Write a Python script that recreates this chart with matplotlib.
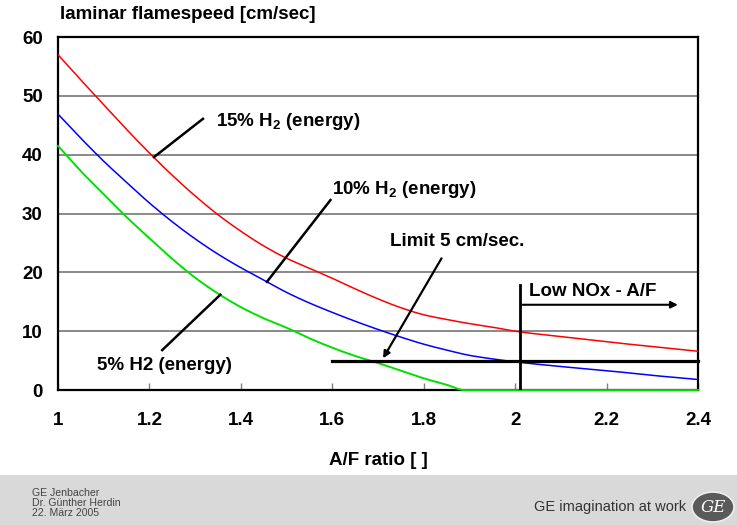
import matplotlib
matplotlib.use("Agg")
import numpy as np
import matplotlib.pyplot as plt
from matplotlib.patches import Rectangle, Circle

plt.rcParams['font.family'] = ['Liberation Sans', 'DejaVu Sans']
plt.rcParams['mathtext.fontset'] = 'custom'
plt.rcParams['mathtext.rm'] = 'Liberation Sans:bold'

# values (A/F ratio, laminar flame speed cm/s)
x_red = [1.0, 1.05, 1.1, 1.15, 1.2, 1.25, 1.3, 1.35, 1.4, 1.45, 1.5, 1.55, 1.6, 1.65,
         1.7, 1.75, 1.8, 1.85, 1.9, 1.95, 2.0, 2.1, 2.2, 2.3, 2.4]
y_red = [57.0, 52.7, 48.5, 44.3, 40.3, 36.5, 33.0, 29.8, 27.0, 24.5, 22.4, 20.7, 19.0, 17.2,
         15.5, 14.0, 12.8, 12.0, 11.3, 10.7, 10.0, 9.1, 8.2, 7.4, 6.6]

x_blue = [1.0, 1.05, 1.1, 1.15, 1.2, 1.25, 1.3, 1.35, 1.4, 1.45, 1.5, 1.55, 1.6, 1.65,
          1.7, 1.75, 1.8, 1.85, 1.9, 1.95, 2.0, 2.1, 2.2, 2.3, 2.4]
y_blue = [46.9, 42.8, 38.9, 35.3, 31.8, 28.6, 25.7, 23.1, 20.8, 18.7, 16.6, 14.8, 13.2, 11.7,
          10.3, 9.0, 7.8, 6.8, 5.9, 5.3, 4.8, 4.0, 3.3, 2.5, 1.8]

x_green = [1.0, 1.05, 1.1, 1.15, 1.2, 1.25, 1.3, 1.35, 1.4, 1.45, 1.5, 1.55, 1.6, 1.65,
           1.7, 1.75, 1.8, 1.85, 1.89, 2.0, 2.2, 2.4]
y_green = [41.5, 37.2, 33.3, 29.4, 25.8, 22.3, 19.1, 16.4, 14.1, 12.2, 10.6, 8.8, 7.2, 5.8,
           4.6, 3.3, 2.0, 0.9, 0.0, 0.0, 0.0, 0.0]

x_ticks = [1, 1.2, 1.4, 1.6, 1.8, 2, 2.2, 2.4]
x_ticklabels = ['1', '1.2', '1.4', '1.6', '1.8', '2', '2.2', '2.4']
y_ticks = [0, 10, 20, 30, 40, 50, 60]

limit_value = 5
limit_x = [1.6, 2.4]
lownox_x = 2.01


def smooth(xs, ys, n=400):
    """Monotone cubic (PCHIP) rendering through the read points."""
    x = np.asarray(xs, float)
    y = np.asarray(ys, float)
    h = np.diff(x)
    dl = np.diff(y) / h
    d = np.zeros_like(x)
    d[0], d[-1] = dl[0], dl[-1]
    for k in range(1, len(x) - 1):
        if dl[k - 1] * dl[k] <= 0:
            d[k] = 0.0
        else:
            w1 = 2 * h[k] + h[k - 1]
            w2 = h[k] + 2 * h[k - 1]
            d[k] = (w1 + w2) / (w1 / dl[k - 1] + w2 / dl[k])
    xx = np.linspace(x[0], x[-1], n)
    idx = np.clip(np.searchsorted(x, xx, side='right') - 1, 0, len(x) - 2)
    t = (xx - x[idx]) / h[idx]
    h00 = 2 * t**3 - 3 * t**2 + 1
    h10 = t**3 - 2 * t**2 + t
    h01 = -2 * t**3 + 3 * t**2
    h11 = t**3 - t**2
    yy = h00 * y[idx] + h10 * h[idx] * d[idx] + h01 * y[idx + 1] + h11 * h[idx] * d[idx + 1]
    return xx, yy


fig = plt.figure(figsize=(7.37, 5.25), dpi=100)
ax = fig.add_axes([0.0787, 0.257, 0.8684, 0.6724])

ax.set_xlim(1, 2.4)
ax.set_ylim(0, 60)
for yv in y_ticks[1:-1]:
    ax.axhline(yv, color='#808080', lw=1.3, zorder=1)

ax.plot(*smooth(x_red, y_red), color='#ff0000', lw=1.1, zorder=3)
ax.plot(*smooth(x_blue, y_blue), color='#0000ff', lw=1.1, zorder=3)
ax.plot(*smooth(x_green, y_green), color='#00e000', lw=1.4, zorder=3, clip_on=False)

for s in ax.spines.values():
    s.set_color('black')
    s.set_linewidth(1.6)

ax.set_xticks(x_ticks)
ax.set_xticklabels(x_ticklabels)
ax.set_yticks(y_ticks)
ax.tick_params(axis='x', direction='in', length=5, width=1, color='#808080', pad=16,
               labelsize=13.5)
ax.tick_params(axis='y', length=0, pad=11, labelsize=13.5)
for lab in ax.get_xticklabels() + ax.get_yticklabels():
    lab.set_fontweight('bold')

ax.set_xlabel('A/F ratio [ ]', fontsize=13.5, fontweight='bold', labelpad=16)
fig.text(0.0815, 0.957, 'laminar flamespeed [cm/sec]', fontsize=13.5, fontweight='bold',
         ha='left', va='bottom')

# limit line and low NOx marker
ax.plot(limit_x, [limit_value, limit_value], color='black', lw=2.3, zorder=4, clip_on=False)
ax.plot([lownox_x, lownox_x], [0, 17.9], color='black', lw=2.0, zorder=4)
ax.annotate('', xy=(2.362, 14.5), xytext=(lownox_x, 14.5),
            arrowprops=dict(arrowstyle='-|>', color='black', lw=1.5, mutation_scale=10))
ax.text(2.03, 16.8, 'Low NOx - A/F', fontsize=13.5, fontweight='bold', ha='left', va='center')

# annotations
lw_lead = 1.8
ax.plot([1.21, 1.317], [39.6, 46.1], color='black', lw=lw_lead, zorder=5)
ax.text(1.345, 45.6, '15% H$_\\mathrm{2}$ (energy)', fontsize=13.5, fontweight='bold',
        ha='left', va='center')

ax.plot([1.457, 1.596], [18.4, 32.3], color='black', lw=lw_lead, zorder=5)
ax.text(1.6, 34.1, '10% H$_\\mathrm{2}$ (energy)', fontsize=13.5, fontweight='bold',
        ha='left', va='center')

ax.plot([1.228, 1.355], [6.8, 16.2], color='black', lw=lw_lead, zorder=5)
ax.text(1.085, 4.1, '5% H2 (energy)', fontsize=13.5, fontweight='bold',
        ha='left', va='center')

ax.annotate('', xy=(1.708, 5.0), xytext=(1.842, 22.8),
            arrowprops=dict(arrowstyle='-|>', color='black', lw=1.6, mutation_scale=10))
ax.text(1.727, 25.2, 'Limit 5 cm/sec.', fontsize=13.5, fontweight='bold',
        ha='left', va='center')

# footer band
fig.patches.append(Rectangle((0, 0), 1, 50 / 525, transform=fig.transFigure,
                             facecolor='#d9d9d9', edgecolor='none', zorder=0))
fig.text(32 / 737, 37 / 525, 'GE Jenbacher\nDr. Günther Herdin\n22. März 2005', fontsize=7.6,
         family=['Liberation Sans Narrow', 'Liberation Sans'],
         color='#444444', ha='left', va='top', linespacing=1.0)
fig.text(686 / 737, 18 / 525, 'GE imagination at work', fontsize=10.5, color='#333333',
         family='Liberation Sans', ha='right', va='center')
fig.patches.append(Circle((713 / 737, 18 / 525), 21 / 737, transform=fig.transFigure,
                          facecolor='#5a5a5a', edgecolor='#eeeeee', lw=1.2, zorder=2))
fig.text(713 / 737, 18 / 525, 'GE', fontsize=12, color='white', ha='center', va='center',
         style='italic', family='DejaVu Serif', zorder=3)

fig.savefig('out.png', dpi=100)
